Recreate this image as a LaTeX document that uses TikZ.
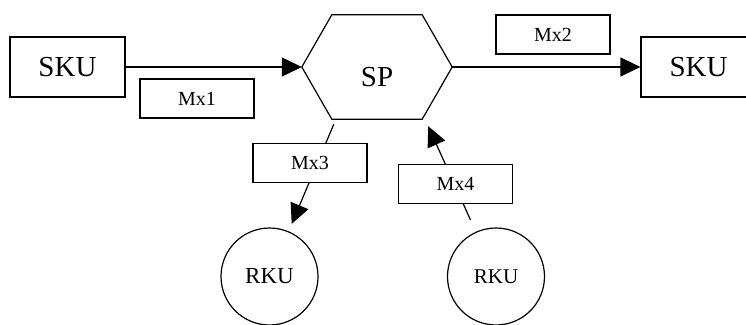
\documentclass[tikz,border=0pt]{standalone}
\usepackage{fontspec}
\setmainfont{Liberation Serif}
\usetikzlibrary{arrows.meta}
\tikzset{
    unit/.style={draw, line width=1.2pt, minimum width=115pt, minimum height=60pt, inner sep=0pt, font=\fontsize{29}{31}\selectfont},
    mix/.style={draw, fill=white, line width=1.2pt, minimum width=114pt, minimum height=39pt, inner sep=0pt, font=\fontsize{20}{22}\selectfont},
    rku/.style={draw, circle, line width=1.2pt, minimum size=97pt, inner sep=0pt, font=\fontsize{23}{25}\selectfont},
    flow/.style={line width=1.2pt, -{Triangle[length=20pt,width=19pt]}}
}
\begin{document}
\begin{tikzpicture}[x=1pt,y=-1pt]
        \useasboundingbox (0,0) rectangle (746,324);
        % units
        \node[unit] (skuin) at (67.5,67) {SKU};
        \node[unit] (skuout) at (698.5,67) {SKU};
        \node[minimum width=150pt, minimum height=104pt] (sp) at (377,67) {};
        \draw [line width=1.2pt] (sp.west) -- ([xshift=30pt]sp.north west) -- ([xshift=-30pt]sp.north east)
            -- (sp.east) -- ([xshift=-30pt]sp.south east) -- ([xshift=30pt]sp.south west) -- cycle;
        \node[font=\fontsize{29}{31}\selectfont] (sptext) at ([yshift=-10pt]sp.center) {SP};
        \node[rku] (rkuout) at (269.5,276.5) {RKU};
        \node[rku, font=\fontsize{21}{23}\selectfont] (rkuin) at (496,276.5) {RKU};
        % ends near the hexagon
        \coordinate (spout) at ([xshift=32pt, yshift=-5pt]sp.south west);
        \coordinate (spin) at ([xshift=-24pt, yshift=-7pt]sp.south east);
        % flows
        \draw [flow] (skuin.east) -- (sp.west);
        \draw [flow] (sp.east) -- (skuout.west);
        \draw [flow, shorten >=8pt] (spout) -- (rkuout);
        \draw [flow, shorten <=13pt] (rkuin) -- (spin);
        % mixes
        \node[mix] (mxa) at (197,98.5) {Mx1};
        \node[mix] (mxb) at (553,34.5) {Mx2};
        \node[mix] (mxc) at (310,163) {Mx3};
        \node[mix] (mxd) at (455.5,184) {Mx4};
    \end{tikzpicture}
\end{document}
